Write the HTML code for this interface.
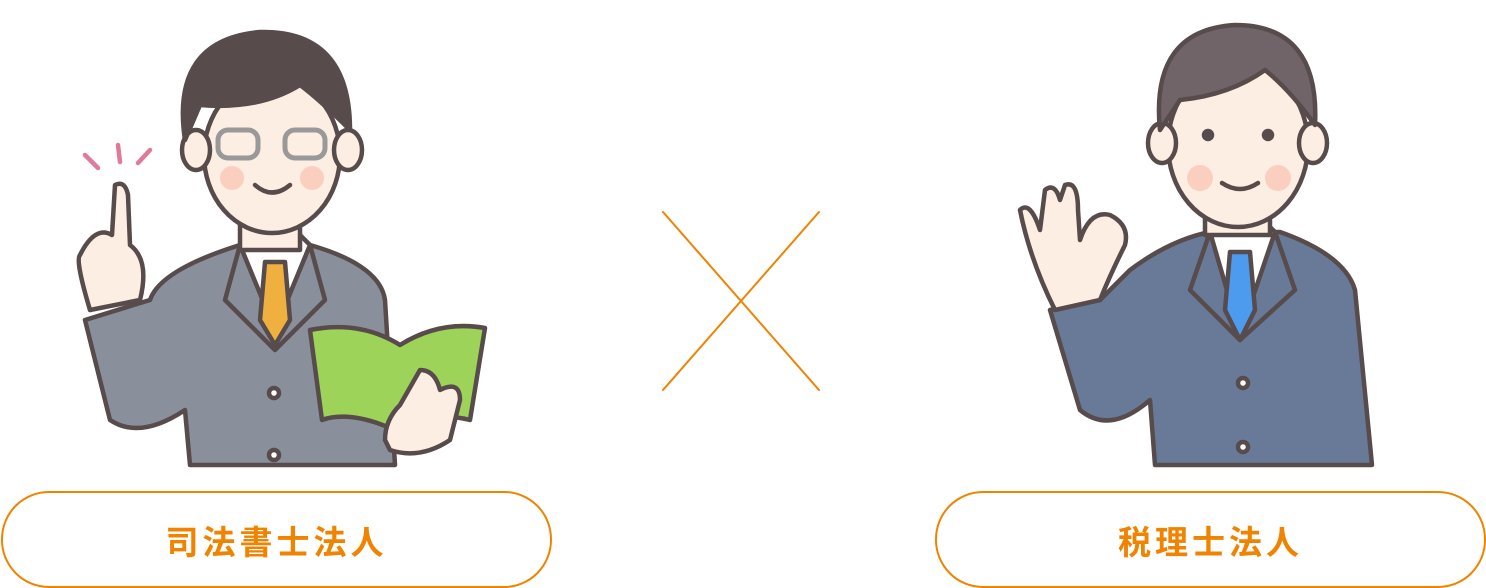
<!DOCTYPE html>
<html><head><meta charset="utf-8"><style>
body{margin:0;width:1486px;height:588px;background:#fff;overflow:hidden;position:relative;font-family:"Liberation Sans","Noto Sans CJK JP",sans-serif}
.pill{position:absolute;top:491px;width:547px;height:93px;border:2px solid #f08300;border-radius:48px;box-sizing:content-box;display:flex;align-items:center;justify-content:center;color:#f08300;font-weight:bold;font-size:33px;letter-spacing:4px}
</style></head><body>
<svg width="1486" height="588" style="position:absolute;left:0;top:0" stroke="#574b4b" stroke-width="4.5" stroke-linejoin="round" stroke-linecap="round">
<line x1="663" y1="212" x2="819" y2="390" stroke="#f08300" stroke-width="2"/>
<line x1="819" y1="212" x2="663" y2="390" stroke="#f08300" stroke-width="2"/>
<!-- LEFT person -->
<path d="M150 300 Q160 270 240 245 L310 245 Q380 265 385 300 L395 465 L190 465 L185 410 Q140 440 110 420 L85 320 Z" fill="#8a8f9c"/>
<path d="M240 245 L275 330 L310 245 L300 235 L250 235 Z" fill="#fff"/>
<path d="M265 262 L285 262 L290 320 L275 345 L260 320 Z" fill="#f0b040"/>
<path d="M240 245 L225 300 L275 350 M310 245 L325 300 L275 350" fill="none"/>
<circle cx="274" cy="393" r="5" fill="#fff"/><circle cx="274" cy="455" r="5" fill="#fff"/>
<rect x="240" y="200" width="60" height="50" fill="#fdeee3"/>
<ellipse cx="272" cy="155" rx="68" ry="78" fill="#fdeee3"/>
<ellipse cx="196" cy="150" rx="14" ry="20" fill="#fdeee3"/><ellipse cx="348" cy="150" rx="14" ry="20" fill="#fdeee3"/>
<path d="M185 140 Q170 40 260 32 Q350 30 350 130 Q320 100 300 85 Q260 110 200 105 Z" fill="#574b4b"/>
<circle cx="232" cy="178" r="12" fill="#fbcfc0" stroke="none"/><circle cx="312" cy="178" r="12" fill="#fbcfc0" stroke="none"/>
<rect x="218" y="130" width="40" height="28" rx="10" fill="none" stroke="#999" stroke-width="5"/>
<rect x="285" y="130" width="40" height="28" rx="10" fill="none" stroke="#999" stroke-width="5"/>
<path d="M255 185 Q272 200 290 185" fill="none"/>
<path d="M115 185 Q125 180 128 195 L130 245 Q150 260 140 300 L90 310 Q75 260 80 255 Q95 225 112 235 Z" fill="#fdeee3"/>
<path d="M85 155 L98 168 M118 145 L120 162 M150 150 L138 163" stroke="#e07a98"/>
<path d="M310 330 Q360 320 400 345 Q440 320 485 328 L470 420 Q430 410 395 430 Q350 410 322 420 Z" fill="#9ed35a"/>
<path d="M385 440 Q385 420 400 405 L420 370 Q435 370 440 390 Q460 380 460 400 L450 440 Q420 460 390 450 Z" fill="#fdeee3"/>
<!-- RIGHT person -->
<path d="M1130 270 Q1170 240 1210 232 L1280 232 Q1345 255 1355 290 L1372 465 L1155 465 L1150 400 Q1110 435 1080 410 L1050 310 L1100 300 Z" fill="#687a97"/>
<path d="M1210 232 L1240 335 L1275 232 L1265 222 L1220 222 Z" fill="#fff"/>
<path d="M1230 252 L1250 252 L1255 310 L1240 340 L1225 310 Z" fill="#4d9bef"/>
<path d="M1210 232 L1190 290 L1240 340 M1275 232 L1295 290 L1240 340" fill="none"/>
<circle cx="1243" cy="383" r="5" fill="#fff"/><circle cx="1243" cy="447" r="5" fill="#fff"/>
<rect x="1205" y="190" width="65" height="45" fill="#fdeee3"/>
<ellipse cx="1238" cy="145" rx="70" ry="82" fill="#fdeee3"/>
<ellipse cx="1162" cy="143" rx="14" ry="20" fill="#fdeee3"/><ellipse cx="1313" cy="143" rx="14" ry="20" fill="#fdeee3"/>
<path d="M1160 130 Q1150 30 1235 25 Q1320 25 1315 125 Q1290 90 1265 70 Q1230 95 1180 100 Z" fill="#706469"/>
<circle cx="1200" cy="178" r="13" fill="#fbcfc0" stroke="none"/><circle cx="1278" cy="178" r="13" fill="#fbcfc0" stroke="none"/>
<circle cx="1208" cy="135" r="4" fill="#574b4b"/><circle cx="1268" cy="135" r="4" fill="#574b4b"/>
<path d="M1222 183 Q1240 195 1258 183" fill="none"/>
<path d="M1020 210 Q1030 200 1040 230 L1045 190 Q1055 182 1060 200 L1065 185 Q1078 180 1078 210 L1080 240 Q1090 210 1110 215 Q1130 225 1125 245 Q1110 275 1100 300 L1055 310 Q1030 260 1020 210 Z" fill="#fdeee3"/>
</svg>
<div class="pill" style="left:1px">司法書士法人</div>
<div class="pill" style="left:935px">税理士法人</div>
</body></html>
